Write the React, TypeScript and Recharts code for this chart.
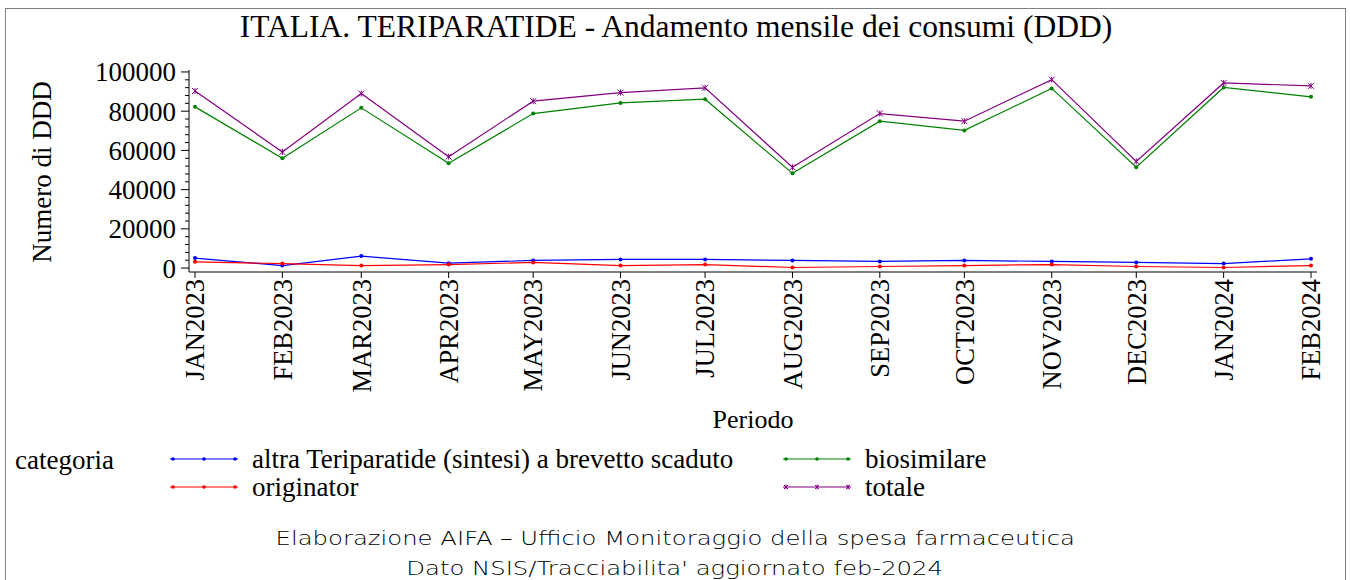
import { LineChart, Line, XAxis, YAxis } from "recharts";

const months = [
  "JAN2023", "FEB2023", "MAR2023", "APR2023", "MAY2023", "JUN2023", "JUL2023",
  "AUG2023", "SEP2023", "OCT2023", "NOV2023", "DEC2023", "JAN2024", "FEB2024",
];
const altra = [5100, 1300, 6100, 2500, 3900, 4400, 4400, 3900, 3400, 3900, 3400, 2900, 2300, 4700];
const originator = [3200, 2300, 1300, 1800, 2900, 1300, 1800, 300, 800, 1300, 1800, 800, 300, 1300];
const biosimilare = [82200, 56000, 81700, 53400, 78800, 84200, 86100, 48300, 74900, 70200, 91600, 51400, 92100, 87300];
const totale = [90300, 59200, 89000, 56800, 85100, 89500, 91900, 51400, 78800, 74900, 96100, 54400, 94400, 92900];

const yTicks = [0, 20000, 40000, 60000, 80000, 100000];
const yAllTicks = [
  0, 4000, 8000, 12000, 16000, 20000, 24000, 28000, 32000, 36000, 40000, 44000, 48000,
  52000, 56000, 60000, 64000, 68000, 72000, 76000, 80000, 84000, 88000, 92000, 96000, 100000,
];

const MON = ["JAN", "FEB", "MAR", "APR", "MAY", "JUN", "JUL", "AUG", "SEP", "OCT", "NOV", "DEC"];
const base = Date.UTC(2023, 0, 1);
const dayOf = (m: string) =>
  (Date.UTC(Number(m.slice(3)), MON.indexOf(m.slice(0, 3)), 1) - base) / 86400000;

const data = months.map((m, i) => ({
  t: dayOf(m),
  label: m,
  altra: altra[i],
  originator: originator[i],
  biosimilare: biosimilare[i],
  totale: totale[i],
}));
const xTicks = data.map((d) => d.t);
const labelOf: Record<number, string> = {};
data.forEach((d) => (labelOf[d.t] = d.label));

const serif = "'Liberation Serif', 'Times New Roman', serif";

const YTick = (props: any) => {
  const { x, y, payload } = props;
  const axisX = x + 13;
  const major = yTicks.includes(payload.value);
  return (
    <g>
      <line x1={axisX - (major ? 8 : 4)} x2={axisX} y1={y} y2={y} stroke="#000" />
      {major && (
        <text x={axisX - 13} y={y} dy="0.35em" textAnchor="end" fontFamily={serif} fontSize={27} fill="#000">
          {payload.value}
        </text>
      )}
    </g>
  );
};

const XTick = (props: any) => {
  const { x, y, payload } = props;
  return (
    <text
      transform={`translate(${x},${y}) rotate(-90)`}
      x={0}
      y={0}
      dy="0.35em"
      textAnchor="end"
      fontFamily={serif}
      fontSize={26.5}
      fill="#000"
    >
      {labelOf[payload.value]}
    </text>
  );
};

const dotOf = (color: string) => (p: any) => (
  <circle key={p.index} cx={p.cx} cy={p.cy} r={2} fill={color} stroke="none" />
);

const starDot = (p: any) => {
  const { cx, cy } = p;
  const s = 3;
  return (
    <path
      key={p.index}
      d={`M${cx - s},${cy - s}L${cx + s},${cy + s}M${cx - s},${cy + s}L${cx + s},${cy - s}M${cx},${cy - s}L${cx},${cy + s}`}
      stroke="#800080"
      strokeWidth={1}
      fill="none"
    />
  );
};

const LegendSample = ({ color, star }: { color: string; star?: boolean }) => (
  <svg width={70} height={10} style={{ display: "block" }}>
    <line x1={1} x2={69} y1={5} y2={5} stroke={color} strokeWidth={1.2} />
    {[4, 35, 66].map((cx) =>
      star ? (
        <path key={cx} d={`M${cx - 2},3L${cx + 2},7M${cx - 2},7L${cx + 2},3M${cx},2.5L${cx},7.5`} stroke={color} />
      ) : (
        <circle key={cx} cx={cx} cy={5} r={1.8} fill={color} />
      )
    )}
  </svg>
);

const legendItems = [
  { name: "altra Teriparatide (sintesi) a brevetto scaduto", color: "#0000ff", left: 169, top: 459 },
  { name: "biosimilare", color: "#008000", left: 782, top: 459 },
  { name: "originator", color: "#ff0000", left: 169, top: 487 },
  { name: "totale", color: "#800080", left: 782, top: 487, star: true },
];

const footerLine = {
  display: "inline-block",
  transform: "scaleX(1.28)",
  transformOrigin: "center",
};

export default function App() {
  return (
    <div style={{ position: "absolute", left: 0, top: 0, width: 1350, height: 580, background: "#fff", overflow: "hidden" }}>
      <div style={{ position: "absolute", left: 5, top: 8, width: 1339, height: 600, border: "1px solid #808080" }} />
      <div
        style={{
          position: "absolute", left: 0, width: 1352, top: 9, textAlign: "center",
          fontFamily: serif, fontSize: 31.5, lineHeight: "36px", color: "#000",
        }}
      >
        ITALIA. TERIPARATIDE - Andamento mensile dei consumi (DDD)
      </div>
      <div style={{ position: "absolute", left: 0, top: 0 }}>
        <LineChart width={1350} height={580} data={data} margin={{ top: 70, right: 33, bottom: 178, left: 0 }}>
          <XAxis
            dataKey="t"
            type="number"
            domain={[0, 396]}
            ticks={xTicks}
            interval={0}
            padding={{ left: 6, right: 6 }}
            height={130}
            tickSize={6}
            tickMargin={1}
            tick={<XTick />}
            stroke="#000"
            tickLine={{ stroke: "#000" }}
          />
          <XAxis xAxisId="top" orientation="top" type="number" domain={[0, 396]} height={0} tick={false} tickLine={false} stroke="#000" />
          <YAxis
            type="number"
            domain={[-2000, 101000]}
            ticks={yAllTicks}
            interval={0}
            width={189}
            tickSize={8}
            tickMargin={5}
            tickLine={false}
            tick={<YTick />}
            stroke="#000"
          />
          <YAxis yAxisId="right" orientation="right" domain={[-2000, 101000]} width={0} tick={false} tickLine={false} stroke="#000" />
          <Line dataKey="altra" stroke="#0000ff" strokeWidth={1.2} dot={dotOf("#0000ff")} isAnimationActive={false} />
          <Line dataKey="originator" stroke="#ff0000" strokeWidth={1.2} dot={dotOf("#ff0000")} isAnimationActive={false} />
          <Line dataKey="biosimilare" stroke="#008000" strokeWidth={1.2} dot={dotOf("#008000")} isAnimationActive={false} />
          <Line dataKey="totale" stroke="#800080" strokeWidth={1.2} dot={starDot} isAnimationActive={false} />
        </LineChart>
      </div>
      <div
        style={{
          position: "absolute", left: 42, top: 172, transform: "translate(-50%,-50%) rotate(-90deg)",
          whiteSpace: "nowrap", fontFamily: serif, fontSize: 27, color: "#000",
        }}
      >
        Numero di DDD
      </div>
      <div
        style={{
          position: "absolute", left: 753, top: 420, transform: "translate(-50%,-50%)",
          whiteSpace: "nowrap", fontFamily: serif, fontSize: 26, color: "#000",
        }}
      >
        Periodo
      </div>
      <div style={{ position: "absolute", left: 15, top: 445, fontFamily: serif, fontSize: 27, lineHeight: "30px" }}>
        categoria
      </div>
      {legendItems.map((it) => (
        <div
          key={it.name}
          style={{ position: "absolute", left: it.left, top: it.top - 15, display: "flex", alignItems: "center", height: 30 }}
        >
          <LegendSample color={it.color} star={it.star} />
          <span style={{ marginLeft: 13, fontFamily: serif, fontSize: 27, whiteSpace: "nowrap" }}>{it.name}</span>
        </div>
      ))}
      <div
        style={{
          position: "absolute", left: 0, width: 1350, top: 523, textAlign: "center",
          fontFamily: "'DejaVu Sans', sans-serif", fontWeight: 200, fontSize: 19, lineHeight: "30px",
          color: "#000",
        }}
      >
        <div><span style={footerLine}>Elaborazione AIFA – Ufficio Monitoraggio della spesa farmaceutica</span></div>
        <div><span style={footerLine}>Dato NSIS/Tracciabilita' aggiornato feb-2024</span></div>
      </div>
    </div>
  );
}
